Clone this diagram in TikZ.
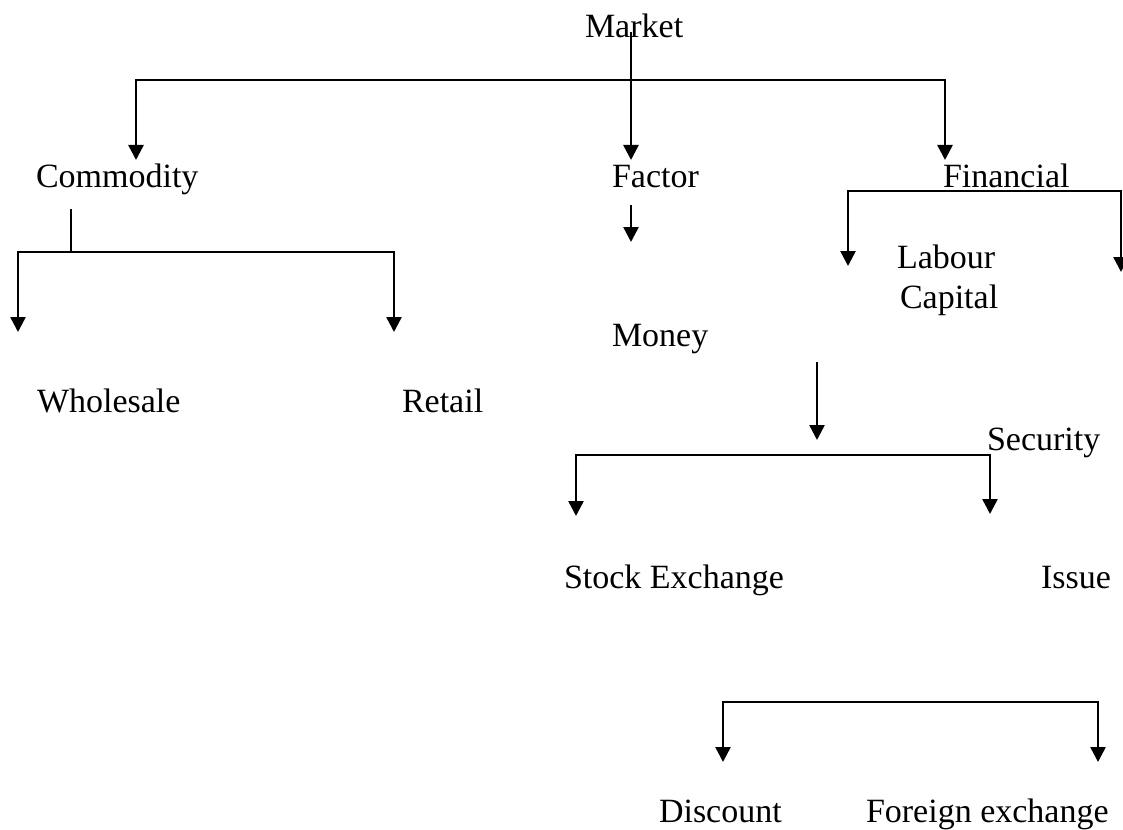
\documentclass[tikz,border=0pt]{standalone}
\usepackage{fontspec}
\setmainfont{Liberation Serif}
\usetikzlibrary{arrows.meta}
\begin{document}
\begin{tikzpicture}[x=1pt,y=-1pt,
  lbl/.style={anchor=base west,inner sep=0pt,outer sep=0pt,font=\fontsize{34}{40}\selectfont},
  conn/.style={line width=2.5pt,line join=miter},
  tipd/.tip={Triangle[width=15pt,length=15pt]},
  arr/.style={conn,-tipd},
  arrs/.style={conn,tipd-tipd}]
\useasboundingbox[fill=white] (0,0) rectangle (1123,829);
% labels
\node[lbl] (market) at (585,38) {Market};
\node[lbl] (commodity) at (36,187) {Commodity};
\node[lbl] (factor) at (612,187) {Factor};
\node[lbl] (financial) at (943,187) {Financial};
\node[lbl] (labour) at (897,268) {Labour};
\node[lbl] (capital) at (900,308) {Capital};
\node[lbl] (money) at (612,346) {Money};
\node[lbl] (wholesale) at (37,412) {Wholesale};
\node[lbl] (retail) at (402,412) {Retail};
\node[lbl] (security) at (987,450) {Security};
\node[lbl] (stock) at (564,588) {Stock Exchange};
\node[lbl] (issue) at (1041,588) {Issue};
\node[lbl] (discount) at (659,822) {Discount};
\node[lbl] (forex) at (866,822) {Foreign exchange};
% connector points
\coordinate (mTop) at (631,32);
\coordinate (mTip) at (631,160);
\coordinate (cTip) at (136,160);
\coordinate (cBar) at (136,80);
\coordinate (fBar) at (945,80);
\coordinate (fTip) at (945,160);
\coordinate (cStemT) at (71,209);
\coordinate (cStemB) at (71,252);
\coordinate (wTip) at (18,332);
\coordinate (wBar) at (18,252);
\coordinate (rBar) at (394,252);
\coordinate (rTip) at (394,332);
\coordinate (faTop) at (631,205);
\coordinate (faTip) at (631,242);
\coordinate (lTip) at (848,266);
\coordinate (lBar) at (848,191);
\coordinate (kBar) at (1121,191);
\coordinate (kTip) at (1121,272);
\coordinate (moTop) at (817,362);
\coordinate (moTip) at (817,440);
\coordinate (sTip) at (576,516);
\coordinate (sBar) at (576,455);
\coordinate (iBar) at (990,455);
\coordinate (iTip) at (990,514);
\coordinate (dTip) at (723,762);
\coordinate (dBar) at (723,702);
\coordinate (feBar) at (1098,702);
\coordinate (feTip) at (1098,762);
% connectors
\draw[arr] (mTop) -- (mTip);
\draw[arrs] (cTip) -- (cBar) -- (fBar) -- (fTip);
\draw[conn] (cStemT) -- (cStemB);
\draw[arrs] (wTip) -- (wBar) -- (rBar) -- (rTip);
\draw[arr] (faTop) -- (faTip);
\draw[arrs] (lTip) -- (lBar) -- (kBar) -- (kTip);
\draw[arr] (moTop) -- (moTip);
\draw[arrs] (sTip) -- (sBar) -- (iBar) -- (iTip);
\draw[arrs] (dTip) -- (dBar) -- (feBar) -- (feTip);
\end{tikzpicture}
\end{document}
